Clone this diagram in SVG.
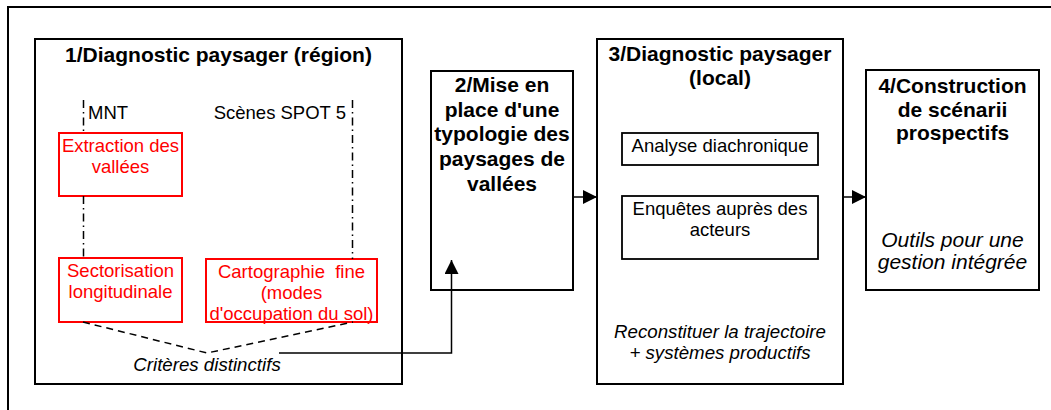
<svg xmlns="http://www.w3.org/2000/svg" width="1051" height="410" viewBox="0 0 1051 410">
<style>
.box{fill:#fff;stroke:#000;stroke-width:2}
.sub{fill:#fff;stroke:#000;stroke-width:1.8}
.redf{fill:#fff;stroke:none}
.red{fill:none;stroke:#f00;stroke-width:2}
text{font-family:"Liberation Sans",Arial,sans-serif;fill:#000}
.b{font-weight:bold;font-size:21px}
.n{font-size:18.5px}
.i{font-style:italic;font-size:18.7px}
.i4{font-style:italic;font-size:21px}
.r{fill:#f00;font-size:18.5px}
.dd{fill:none;stroke:#000;stroke-width:1.5;stroke-dasharray:8,4,1.5,4}
.dash{fill:none;stroke:#000;stroke-width:1.5;stroke-dasharray:7,5}
.ln{fill:none;stroke:#000;stroke-width:1.5}
</style>
<defs>
<marker id="ah" markerWidth="14" markerHeight="14" refX="14" refY="7" orient="auto" markerUnits="userSpaceOnUse">
<path d="M0,0 L14,7 L0,14 Z" fill="#000"/>
</marker>
</defs>
<g id="frame"><path d="M8,410 V7 H1051" fill="none" stroke="#000" stroke-width="2"/></g>
<g id="n1">
<rect class="box" x="35" y="39" width="367" height="345"/>
<text class="b" x="218.5" y="62" text-anchor="middle">1/Diagnostic paysager (région)</text>
<text class="n" x="88" y="119">MNT</text>
<text class="n" x="346" y="119" text-anchor="end">Scènes SPOT 5</text>
</g>
<g id="n1a">
<rect class="redf" x="59" y="133" width="123" height="63"/>
<text class="r" x="120.5" y="152" text-anchor="middle">Extraction des</text>
<text class="r" x="120.5" y="173" text-anchor="middle">vallées</text>
<rect class="red" x="59" y="133" width="123" height="63"/>
</g>
<g id="n1b">
<rect class="redf" x="59" y="258" width="123" height="64"/>
<text class="r" x="120.5" y="277" text-anchor="middle">Sectorisation</text>
<text class="r" x="120.5" y="298" text-anchor="middle">longitudinale</text>
<rect class="red" x="59" y="258" width="123" height="64"/>
</g>
<g id="n1c">
<rect class="redf" x="206" y="259" width="171" height="63"/>
<text class="r" x="291.5" y="278" text-anchor="middle" xml:space="preserve">Cartographie  fine</text>
<text class="r" x="291.5" y="299" text-anchor="middle">(modes</text>
<text class="r" x="291.5" y="320" text-anchor="middle">d'occupation du sol)</text>
<rect class="red" x="206" y="259" width="171" height="63"/>
</g>
<g id="n1d">
<text class="i" x="207" y="371" text-anchor="middle">Critères distinctifs</text>
</g>
<g id="n2">
<rect class="box" x="431" y="71" width="142" height="219"/>
<text class="b" x="502" y="92" text-anchor="middle">2/Mise en</text>
<text class="b" x="502" y="116.5" text-anchor="middle">place d'une</text>
<text class="b" x="502" y="141" text-anchor="middle">typologie des</text>
<text class="b" x="502" y="166" text-anchor="middle">paysages de</text>
<text class="b" x="502" y="191" text-anchor="middle">vallées</text>
</g>
<g id="n3">
<rect class="box" x="597" y="39" width="246" height="345"/>
<text class="b" x="720" y="61" text-anchor="middle">3/Diagnostic paysager</text>
<text class="b" x="720" y="85" text-anchor="middle">(local)</text>
<text class="i" x="720" y="338" text-anchor="middle">Reconstituer la trajectoire</text>
<text class="i" x="720" y="359" text-anchor="middle">+ systèmes productifs</text>
</g>
<g id="n3a">
<rect class="sub" x="622" y="133" width="196" height="32"/>
<text class="n" x="720" y="152" text-anchor="middle">Analyse diachronique</text>
</g>
<g id="n3b">
<rect class="sub" x="622" y="196" width="196" height="63"/>
<text class="n" x="720" y="215" text-anchor="middle">Enquêtes auprès des</text>
<text class="n" x="720" y="236" text-anchor="middle">acteurs</text>
</g>
<g id="n4">
<rect class="box" x="866" y="70" width="173" height="220"/>
<text class="b" x="952.5" y="93" text-anchor="middle">4/Construction</text>
<text class="b" x="952.5" y="117" text-anchor="middle">de scénarii</text>
<text class="b" x="952.5" y="140" text-anchor="middle">prospectifs</text>
<text class="i4" x="952.5" y="247" text-anchor="middle">Outils pour une</text>
<text class="i4" x="952.5" y="269" text-anchor="middle">gestion intégrée</text>
</g>
<g id="connectors">
<path class="dd" d="M83.5,100 V133"/>
<path class="dd" d="M83.5,196 V258"/>
<path class="dd" d="M352.5,100 V259"/>
<path class="dash" d="M83,322 L207,353 L353,322"/>
<path class="ln" d="M279,353 H451.5 V260" marker-end="url(#ah)"/>
<path class="ln" d="M573,197 H597" marker-end="url(#ah)"/>
<path class="ln" d="M843,197 H866" marker-end="url(#ah)"/>
</g>
</svg>
